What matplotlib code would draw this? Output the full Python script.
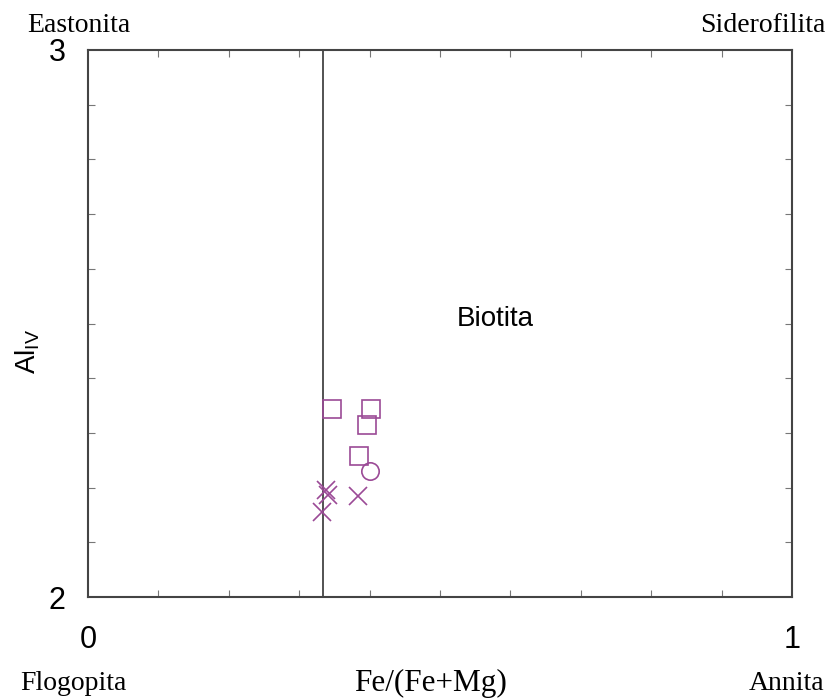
import matplotlib
matplotlib.use("Agg")
import matplotlib.pyplot as plt
import numpy as np

# Dados (Fe/(Fe+Mg), Al IV)
sq_x = [0.346, 0.402, 0.396, 0.385]
sq_y = [2.343, 2.343, 2.315, 2.257]
circ_x = [0.401]
circ_y = [2.231]
cross_x = [0.338, 0.341, 0.383, 0.332]
cross_y = [2.196, 2.187, 2.185, 2.155]
divisor_x = 1 / 3

cor = "#9b4a96"
sans = "Liberation Sans"
serif = "Liberation Serif"

fig = plt.figure(figsize=(8.31, 7.0), dpi=100)
ax = fig.add_axes([0.1059, 0.147, 0.8471, 0.7816])

ax.axvline(divisor_x, color="#444444", lw=1.3)

ax.plot(sq_x, sq_y, ls="none", marker="s", ms=12.5, mfc="none", mec=cor, mew=1.2)
ax.plot(circ_x, circ_y, ls="none", marker="o", ms=12.5, mfc="none", mec=cor, mew=1.2)
ax.plot(cross_x, cross_y, ls="none", marker="x", ms=12.5, mec=cor, mew=1.2)

ax.set_xlim(0, 1)
ax.set_ylim(2, 3)
ax.set_xticks([0, 1])
ax.set_xticklabels(["0", "1"], fontfamily=sans, fontsize=22)
ax.set_yticks([2, 3])
ax.set_yticklabels(["2", "3"], fontfamily=sans, fontsize=22)
ax.set_xticks(np.arange(1, 10) / 10, minor=True)
ax.set_yticks(2 + np.arange(1, 10) / 10, minor=True)
ax.tick_params(which="major", length=0)
ax.tick_params(axis="x", which="major", pad=20)
ax.tick_params(axis="y", which="major", pad=16)
ax.tick_params(which="minor", direction="in", length=5, width=0.8, color="#777777",
               top=True, right=True)
for s in ax.spines.values():
    s.set_color("#444444")
    s.set_linewidth(1.5)

ax.text(0.578, 2.508, "Biotita", fontfamily=sans, fontsize=20, ha="center", va="center")

fig.text(28 / 831, 1 - 351 / 700, r"$\mathregular{Al_{IV}}$", fontfamily=sans, fontsize=20,
         rotation=90, ha="center", va="center")

# rótulos dos cantos
fig.text(79 / 831, 1 - 26 / 700, "Eastonita", fontfamily=serif, fontsize=20, ha="center", va="center")
fig.text(763 / 831, 1 - 26 / 700, "Siderofilita", fontfamily=serif, fontsize=20, ha="center", va="center")
fig.text(73 / 831, 1 - 683 / 700, "Flogopita", fontfamily=serif, fontsize=20, ha="center", va="center")
fig.text(787 / 831, 1 - 683 / 700, "Annita", fontfamily=serif, fontsize=20, ha="center", va="center")
fig.text(431 / 831, 1 - 683 / 700, "Fe/(Fe+Mg)", fontfamily=serif, fontsize=22.5, ha="center", va="center")

fig.savefig("out.png", dpi=100)
